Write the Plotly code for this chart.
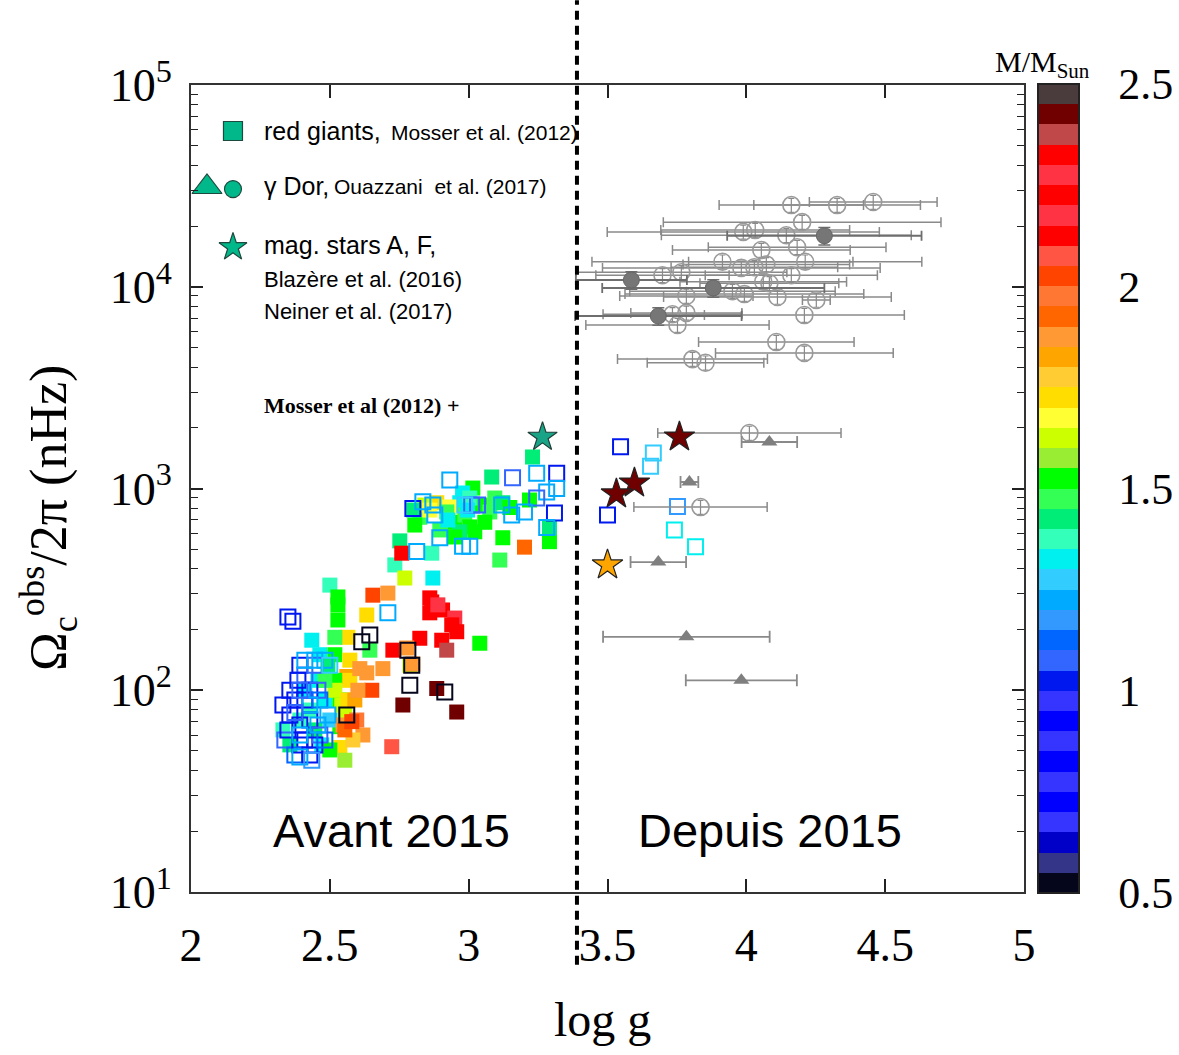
import plotly.graph_objects as go

# ---------------- data ----------------
# Red giants (Mosser et al. 2012), filled squares
rg_fill_logg = [3.230, 3.083, 3.015, 2.978, 2.968, 2.885, 2.932, 2.824, 2.806, 2.921,
                2.950, 2.986, 3.004, 2.968, 3.040, 3.076, 3.058, 3.022, 3.094, 3.123,
                3.148, 3.219, 3.123, 3.291, 3.112, 2.950, 2.896, 3.004, 3.291, 2.867,
                2.752, 2.734, 2.925, 2.996, 2.842, 2.860, 2.802, 3.201, 2.759, 2.871,
                2.770, 2.500, 2.529, 2.655, 2.709, 2.860, 2.529, 2.529, 2.633, 2.867,
                2.906, 2.950, 2.860, 2.957, 2.903, 2.921, 2.824, 2.727, 2.889, 2.939,
                3.040, 2.565, 2.518, 2.644, 2.777, 2.788, 2.799, 2.691, 2.633, 2.561,
                2.651, 2.763, 2.885, 2.957, 2.723, 2.619, 2.536, 2.583, 2.554, 2.536,
                2.435, 2.464, 2.457, 2.482, 2.500, 2.471, 2.331, 2.356, 2.392, 2.518,
                2.518, 2.536, 2.500, 2.554, 2.518, 2.543, 2.565, 2.572, 2.572, 2.547,
                2.590, 2.601, 2.554, 2.608, 2.597, 2.579, 2.428, 2.410, 2.446, 2.482,
                2.493]
rg_fill_omega = [1433, 1140, 1005, 950, 850, 850, 810, 720, 659, 765,
                 680, 739, 645, 610, 828, 765, 680, 610, 897, 850,
                 805, 877, 570, 545, 442, 575, 623, 897, 640, 478,
                 550, 418, 698, 782, 828, 782, 782, 512, 478, 360,
                 360, 332, 290, 296, 303, 287, 265, 223, 236, 274,
                 250, 228, 242, 195, 177, 158, 181, 158, 265, 211,
                 171, 183, 183, 158, 162, 133, 135, 128, 122, 117,
                 100, 84.5, 102, 78, 52.5, 60, 52, 56.7, 75.4, 66,
                 177, 150, 112, 89.5, 71.2, 53.6, 63.6, 53.6, 71.2, 150,
                 112, 89.5, 50.6, 45, 100, 84.5, 89.5, 112, 141, 67.3,
                 89.5, 100, 63.6, 128, 71.2, 69.9, 79.8, 100, 63.6, 112,
                 133]
rg_fill_mass = [1.40, 1.42, 1.50, 1.30, 1.32, 1.70, 1.68, 1.48, 1.50, 1.45,
                1.50, 1.47, 1.52, 1.44, 1.50, 1.48, 1.52, 1.50, 1.45, 1.40,
                1.50, 1.50, 1.52, 1.50, 1.48, 1.50, 1.46, 1.38, 1.40, 1.38,
                1.40, 1.38, 1.30, 1.30, 1.60, 1.68, 1.42, 1.93, 2.20, 1.30,
                1.60, 1.38, 1.50, 2.02, 1.86, 2.20, 1.50, 1.50, 1.70, 2.20,
                2.20, 2.25, 2.33, 2.20, 2.22, 2.35, 2.20, 2.20, 2.15, 2.22,
                1.52, 1.70, 1.48, 1.45, 1.88, 1.60, 1.85, 1.85, 1.88, 1.82,
                2.02, 2.42, 2.42, 2.42, 2.05, 1.86, 1.72, 1.75, 1.60, 1.50,
                1.30, 1.30, 1.32, 1.30, 1.28, 1.30, 1.38, 1.40, 1.38, 1.50,
                1.50, 1.52, 1.50, 1.55, 1.60, 1.62, 1.70, 1.72, 1.70, 1.85,
                1.84, 1.86, 1.90, 1.86, 1.95, 2.00, 1.35, 1.30, 1.42, 1.45,
                1.40]

# Red giants, open squares
rg_open_logg = [2.932, 3.158, 3.245, 3.317, 3.317, 3.281, 3.245, 2.799, 2.835, 2.871,
                2.878, 3.011, 3.032, 3.119, 3.155, 3.201, 3.309, 3.281, 2.896, 2.978,
                3.004, 2.813, 2.986, 2.709, 2.615, 2.644, 2.781, 2.795, 2.788, 2.914,
                2.561, 2.349, 2.367, 2.331, 2.356, 2.385, 2.410, 2.356, 2.392, 2.410,
                2.338, 2.374, 2.428, 2.410, 2.374, 2.428, 2.457, 2.392, 2.446, 2.464,
                2.428, 2.464, 2.392, 2.349, 2.446, 2.482, 2.410, 2.446, 2.482, 2.500,
                2.428, 2.392, 2.457, 2.493, 2.392, 2.435, 2.374, 2.392]
rg_open_omega = [1102, 1130, 1190, 1190, 1000, 960, 897, 795, 860, 828,
                 739, 828, 828, 828, 739, 765, 755, 640, 570, 518,
                 518, 487, 828, 242, 174, 188, 158, 133, 106, 98,
                 75.4, 231, 220, 84.5, 100, 112, 119, 75.4, 67.3, 56.7,
                 56.7, 47.8, 47.8, 89.5, 89.5, 100, 100, 133, 133, 89.5,
                 71.2, 60, 53.6, 63.6, 53.6, 56.7, 141, 141, 141, 133,
                 84.5, 60, 67.3, 75.4, 46.7, 45, 77.6, 100]
rg_open_mass = [1.20, 1.05, 1.20, 1.00, 1.22, 1.20, 1.05, 1.00, 1.20, 1.20,
                1.22, 1.05, 1.05, 1.20, 1.20, 1.20, 1.00, 1.20, 1.20, 1.22,
                1.22, 1.20, 1.25, 1.20, 0.50, 0.50, 0.50, 0.50, 0.50, 0.50,
                0.50, 1.00, 1.00, 1.00, 1.02, 1.00, 1.05, 1.00, 1.02, 1.00,
                1.05, 1.10, 1.00, 1.00, 1.00, 1.02, 1.05, 1.00, 1.05, 1.10,
                1.00, 1.05, 1.00, 1.00, 1.02, 1.10, 1.20, 1.20, 1.22, 1.25,
                1.20, 1.22, 1.20, 1.22, 1.20, 1.15, 1.08, 1.05]

# Red giants published since 2015 (open squares)
new_rg_logg = [3.547, 3.665, 3.655, 3.500, 3.752, 3.741, 3.817]
new_rg_omega = [1610, 1500, 1290, 739, 815, 623, 514]
new_rg_mass = [1.02, 1.25, 1.28, 1.00, 1.15, 1.30, 1.30]

# Magnetic A/F stars
mag_logg = [3.759, 3.597, 3.532, 3.500]
mag_omega = [1800, 1064, 940, 418]
mag_mass = [2.42, 2.42, 2.42, 1.82]
mag_ref_logg = [3.266]
mag_ref_omega = [1800]

# gamma Dor stars (Ouazzani et al. 2017): triangles
gd_tri_logg = [4.083, 3.795, 3.683, 3.784, 3.982]
gd_tri_omega = [1700, 1077, 432, 184, 112]
gd_tri_err = [0.10, 0.032, 0.10, 0.30, 0.20]

# gamma Dor open circles
gd_circ_logg = [4.011, 3.835, 4.162, 4.327, 4.457, 4.201, 4.032, 3.989, 4.144, 4.183,
                4.054, 4.212, 3.914, 4.029, 3.982, 4.072, 3.766, 3.698, 4.162, 4.061,
                4.083, 3.950, 3.993, 3.784, 4.112, 4.252, 3.784, 3.734, 4.209, 3.752,
                4.108, 4.209, 3.806, 3.853]
gd_circ_omega = [1884, 809, 25400, 25400, 26300, 20900, 19100, 18700, 18000, 15700,
                 15200, 13300, 13300, 12500, 12400, 12900, 11800, 11400, 11400, 10600,
                 10400, 9500, 9200, 9000, 8900, 8600, 7420, 7300, 7240, 6460,
                 5320, 4700, 4380, 4200]
gd_circ_err = [0.33, 0.24, 0.26, 0.30, 0.23, 0.50, 0.34, 0.49, 0.45, 0.32,
               0.32, 0.42, 0.47, 0.30, 0.50, 0.30, 0.38, 0.24, 0.31, 0.30,
               0.25, 0.37, 0.43, 0.24, 0.41, 0.05, 0.20, 0.25, 0.36, 0.33,
               0.28, 0.32, 0.27, 0.21]

# gamma Dor filled circles
gd_fill_logg = [3.586, 3.881, 3.683, 4.281]
gd_fill_omega = [10800, 9860, 7160, 17900]
gd_fill_err = [0.20, 0.40, 0.30, 0.35]

# axis ticks
x_tickvals = [2, 2.5, 3, 3.5, 4, 4.5, 5]
x_ticktext = ["2", "2.5", "3", "3.5", "4", "4.5", "5"]
y_tickvals = [10, 100, 1000, 10000, 100000]
y_ticktext = ["10<sup>1</sup>", "10<sup>2</sup>", "10<sup>3</sup>", "10<sup>4</sup>", "10<sup>5</sup>"]
cb_tickvals = [0.5, 1, 1.5, 2, 2.5]
cb_ticktext = ["0.5", "1", "1.5", "2", "2.5"]
logg_boundary = 3.39

# colour bands of the mass colour bar (0.5 -> 2.5, steps of 0.05)
band_colors = ["#05051c", "#343488", "#0000c8", "#3535ff", "#0000ff", "#3535ff", "#0000ff",
               "#3535ff", "#0000ff", "#3535ff", "#0018f0", "#3366ff", "#0066ff", "#3399ff",
               "#00aaff", "#33ccff", "#00f0f0", "#33ffbb", "#00ee77", "#33ff55", "#00ff00",
               "#99ee33", "#ccff00", "#ffff33", "#ffdd00", "#ffcc33", "#ffa500", "#ff9933",
               "#ff6600", "#ff7733", "#ff4400", "#ff5544", "#ff0000", "#ff3344", "#ff0000",
               "#ff3344", "#ff0000", "#c04848", "#700000", "#4a3c3c"]
nb = len(band_colors)
colorscale = []
for i, c in enumerate(band_colors):
    colorscale.append([i / nb, c])
    colorscale.append([(i + 1) / nb, c])

# ---------------- figure ----------------
SERIF = "Liberation Serif"
SANS = "Liberation Sans"
GREY = "#8a8a8a"

fig = go.Figure()

fig.add_trace(go.Scatter(
    x=rg_fill_logg, y=rg_fill_omega, mode="markers",
    marker=dict(symbol="square", size=15, color=rg_fill_mass, colorscale=colorscale,
                cmin=0.5, cmax=2.5, line=dict(width=0),
                showscale=True,
                colorbar=dict(x=1.0168, xanchor="left", xpad=0, y=0.5, yanchor="middle", ypad=0,
                              len=809, lenmode="pixels", thickness=41, thicknessmode="pixels",
                              outlinewidth=2, outlinecolor="#222",
                              tickvals=cb_tickvals, ticktext=cb_ticktext,
                              ticks="outside", ticklen=30, tickcolor="rgba(0,0,0,0)",
                              tickfont=dict(family=SERIF, size=44, color="black"))),
    showlegend=False, hoverinfo="skip"))

fig.add_trace(go.Scatter(
    x=rg_open_logg + new_rg_logg, y=rg_open_omega + new_rg_omega, mode="markers",
    marker=dict(symbol="square-open", size=15, color=rg_open_mass + new_rg_mass,
                colorscale=colorscale, cmin=0.5, cmax=2.5, line=dict(width=2)),
    showlegend=False, hoverinfo="skip"))

# gamma Dor
fig.add_trace(go.Scatter(
    x=gd_circ_logg, y=gd_circ_omega, mode="markers",
    marker=dict(symbol="circle-open", size=17, color="#9a9a9a", line=dict(width=1.6)),
    error_x=dict(type="data", array=gd_circ_err, color=GREY, thickness=1.5, width=5),
    error_y=dict(type="percent", value=8, color=GREY, thickness=1.2, width=3),
    showlegend=False, hoverinfo="skip"))
fig.add_trace(go.Scatter(
    x=gd_fill_logg, y=gd_fill_omega, mode="markers",
    marker=dict(symbol="circle", size=16, color="#767676", line=dict(width=1, color="#666")),
    error_x=dict(type="data", array=gd_fill_err, color="#6e6e6e", thickness=1.8, width=5),
    error_y=dict(type="percent", value=10, color="#6e6e6e", thickness=1.5, width=6),
    showlegend=False, hoverinfo="skip"))
fig.add_trace(go.Scatter(
    x=gd_tri_logg, y=gd_tri_omega, mode="markers",
    marker=dict(symbol="triangle-up", size=14, color="#7f7f7f", line=dict(width=0)),
    error_x=dict(type="data", array=gd_tri_err, color=GREY, thickness=1.8, width=6),
    showlegend=False, hoverinfo="skip"))

# magnetic stars
fig.add_trace(go.Scatter(
    x=mag_logg, y=mag_omega, mode="markers",
    marker=dict(symbol="star", size=23, color=mag_mass, colorscale=colorscale,
                cmin=0.5, cmax=2.5, line=dict(width=1.2, color="#222")),
    showlegend=False, hoverinfo="skip"))
fig.add_trace(go.Scatter(
    x=mag_ref_logg, y=mag_ref_omega, mode="markers",
    marker=dict(symbol="star", size=22, color="#1aa487", line=dict(width=1.2, color="#1f3f37")),
    showlegend=False, hoverinfo="skip"))

# legend glyphs (overlay axes 0..1 = plot area)
LEG = "#00b88a"
leg_x = [0.0504, 0.0192, 0.0504, 0.0504]
leg_y = [0.943, 0.8736, 0.871, 0.799]
leg_sym = ["square", "triangle-up", "circle", "star"]
leg_size = [19, 26, 17, 21]
fig.add_trace(go.Scatter(
    x=leg_x, y=leg_y, xaxis="x2", yaxis="y2", mode="markers",
    marker=dict(symbol=leg_sym, size=leg_size, color=LEG, opacity=1,
                line=dict(width=1.2, color="#1e4a3e")),
    showlegend=False, hoverinfo="skip", cliponaxis=False))

# dashed boundary line
fig.add_shape(type="line", xref="x", yref="paper", x0=logg_boundary, x1=logg_boundary,
              y0=-0.09, y1=1.105, line=dict(color="black", width=4, dash="9px,6px"))

def px2paper(px, py):
    return (px - 191) / 833, (892 - py) / 807

annots = []
def add_text(text, px, py, size, family=SANS, xanchor="left", yanchor="middle", textangle=0, color="black"):
    x, y = px2paper(px, py)
    annots.append(dict(text=text, x=x, y=y, xref="paper", yref="paper", showarrow=False,
                       xanchor=xanchor, yanchor=yanchor, textangle=textangle,
                       font=dict(family=family, size=size, color=color)))

add_text("red giants,", 262, 131, 25)
add_text("Mosser et al. (2012)", 389, 133, 21)
add_text("γ Dor,", 262, 186, 25)
add_text("Ouazzani  et al. (2017)", 332, 187, 21)
add_text("mag. stars A, F,", 262, 245, 25)
add_text("Blazère et al. (2016)", 262, 279, 22)
add_text("Neiner et al. (2017)", 262, 311, 22)
add_text("<b>Mosser et al (2012) +</b>", 262, 405, 22, family=SERIF)
add_text("Avant 2015", 391, 830, 47, xanchor="center")
add_text("Depuis 2015", 770, 830, 47, xanchor="center")
add_text("M/M<sub>Sun</sub>", 1042, 64, 30, family=SERIF, xanchor="center")
add_text("log g", 602, 1020, 48, family=SERIF, xanchor="center")
add_text("Ω<sub>c</sub><sup>obs</sup>/2π (nHz)", 48, 518, 52, family=SERIF, xanchor="center", textangle=-90)

minor_vals = []
for dec in [10, 100, 1000, 10000]:
    for k in range(2, 10):
        minor_vals.append(dec * k)

fig.update_layout(
    width=1179, height=1055,
    margin=dict(l=191, r=155, t=85, b=163, autoexpand=False),
    paper_bgcolor="white", plot_bgcolor="white",
    annotations=annots,
    xaxis=dict(range=[2, 5], tickvals=x_tickvals, ticktext=x_ticktext,
               ticks="inside", ticklen=13, tickwidth=1.5, tickcolor="#222",
               showline=True, linecolor="#333", linewidth=2, mirror="ticks",
               showgrid=False, zeroline=False, ticklabelstandoff=12,
               tickfont=dict(family=SERIF, size=46, color="black")),
    yaxis=dict(type="log", range=[1, 5], tickvals=y_tickvals, ticktext=y_ticktext,
               ticks="inside", ticklen=12, tickwidth=1.5, tickcolor="#222",
               minor=dict(tickvals=minor_vals, ticks="inside", ticklen=7, tickwidth=1.2, tickcolor="#222"),
               showline=True, linecolor="#333", linewidth=2, mirror="ticks",
               showgrid=False, zeroline=False, ticklabelstandoff=8,
               tickfont=dict(family=SERIF, size=46, color="black")),
    xaxis2=dict(overlaying="x", range=[0, 1], visible=False),
    yaxis2=dict(overlaying="y", range=[0, 1], visible=False),
)

fig.write_html("out.html")
